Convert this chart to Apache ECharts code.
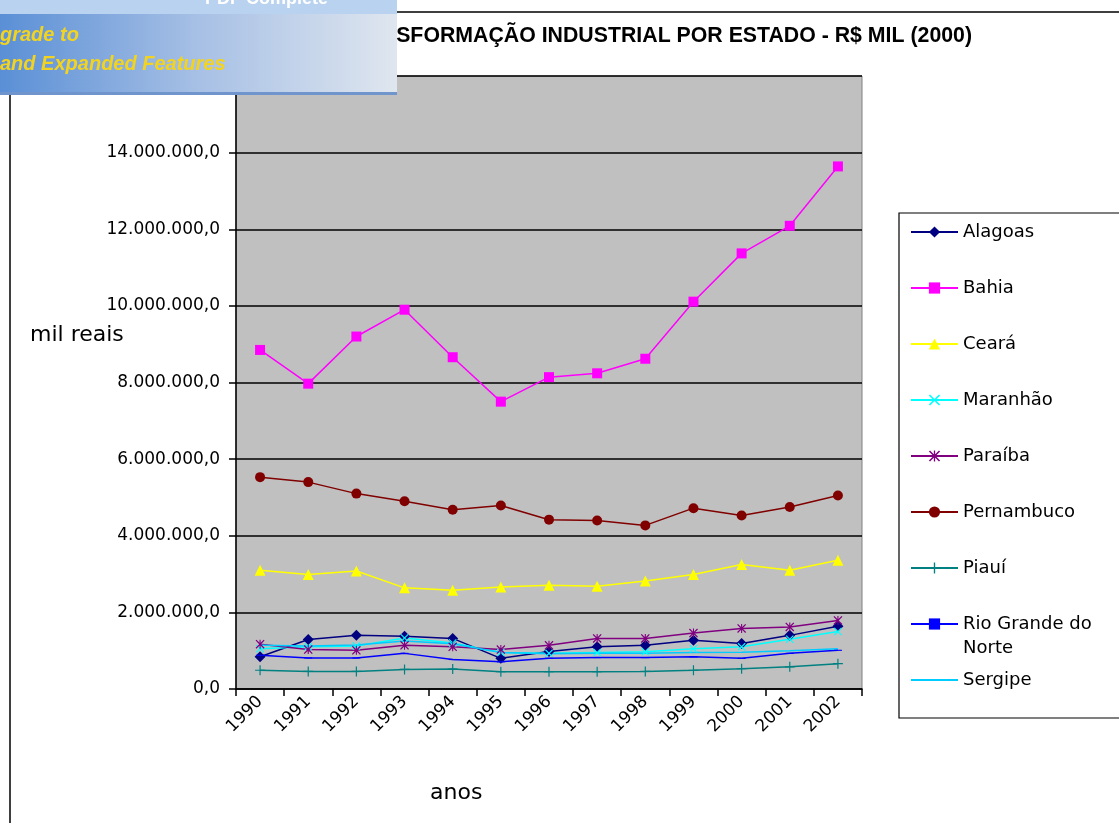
<!DOCTYPE html>
<html>
<head>
<meta charset="utf-8">
<script src="https://cdn.jsdelivr.net/npm/echarts@6/dist/echarts.min.js"></script>
<style>
  html, body { margin: 0; padding: 0; background: #fff; }
  #chart { width: 1119px; height: 823px; }
</style>
</head>
<body>
<div id="chart"></div>
<script>
// anos
const years = ['1990', '1991', '1992', '1993', '1994', '1995', '1996', '1997', '1998', '1999', '2000', '2001', '2002'];
// valor da transformação industrial, R$ mil
const alagoas    = [840000, 1290000, 1400000, 1380000, 1320000, 800000, 980000, 1100000, 1140000, 1270000, 1190000, 1400000, 1640000];
const bahia      = [8850000, 7970000, 9200000, 9900000, 8660000, 7500000, 8140000, 8240000, 8620000, 10110000, 11370000, 12090000, 13640000];
const ceara      = [3100000, 2990000, 3080000, 2640000, 2580000, 2660000, 2710000, 2680000, 2820000, 2990000, 3250000, 3100000, 3360000];
const maranhao   = [1050000, 1100000, 1120000, 1330000, 1200000, 950000, 930000, 950000, 970000, 1050000, 1100000, 1300000, 1500000];
const paraiba    = [1170000, 1030000, 1010000, 1140000, 1100000, 1030000, 1140000, 1320000, 1320000, 1460000, 1580000, 1620000, 1790000];
const pernambuco = [5530000, 5400000, 5100000, 4900000, 4680000, 4790000, 4420000, 4400000, 4270000, 4720000, 4530000, 4750000, 5050000];
const piaui      = [490000, 460000, 460000, 510000, 520000, 450000, 450000, 450000, 460000, 490000, 530000, 580000, 660000];
const rioGrande  = [880000, 810000, 810000, 930000, 770000, 710000, 800000, 820000, 820000, 840000, 800000, 930000, 1010000];
const sergipe    = [1140000, 1120000, 1150000, 1250000, 1180000, 950000, 920000, 930000, 930000, 950000, 960000, 1000000, 1050000];
const yTicks = [0, 2000000, 4000000, 6000000, 8000000, 10000000, 12000000, 14000000, 16000000];

const FONT = "'DejaVu Sans', sans-serif";
const plusPath = 'path://M4.4,0H5.6V4.4H10V5.6H5.6V10H4.4V5.6H0V4.4H4.4Z';
const xPath = 'path://M0,1L1,0L5,4L9,0L10,1L6,5L10,9L9,10L5,6L1,10L0,9L4,5Z';
const starPath = 'path://M0,1L1,0L5,4L9,0L10,1L6,5L10,9L9,10L5,6L1,10L0,9L4,5ZM4.4,0H5.6V10H4.4Z';
const dashPath = 'path://M0,0H8V3H0Z';

function fmt(v) {
    return String(v).replace(/\B(?=(\d{3})+(?!\d))/g, '.') + ',0';
}

function line(name, data, color, symbol, size) {
    return {
        name: name,
        type: 'line',
        data: data,
        symbol: symbol,
        symbolSize: size,
        symbolKeepAspect: true,
        showSymbol: size > 0 || Array.isArray(size),
        lineStyle: { color: color, width: 1.5 },
        itemStyle: { color: color },
        emphasis: { disabled: true },
        animation: false
    };
}

const chart = echarts.init(document.getElementById('chart'));
chart.setOption({
    backgroundColor: '#fff',
    title: {
        text: 'VALOR DA TRANSFORMAÇÃO INDUSTRIAL POR ESTADO - R$ MIL (2000)',
        right: 142,
        top: 21,
        textStyle: { fontFamily: "'Liberation Sans', Arial, sans-serif", fontWeight: 'bold', fontSize: 21.3, color: '#000' }
    },
    legend: {
        orient: 'vertical',
        left: 910,
        top: 223,
        padding: 0,
        itemWidth: 47,
        itemHeight: 14,
        itemGap: 38,
        selectedMode: false,
        data: ['Alagoas', 'Bahia', 'Ceará', 'Maranhão', 'Paraíba', 'Pernambuco', 'Piauí', 'Rio Grande do Norte',
               { name: 'Sergipe', itemStyle: { opacity: 0 } }],
        formatter: function (name) {
            return name === 'Rio Grande do Norte' ? 'Rio Grande do' : name;
        },
        textStyle: { fontFamily: FONT, fontSize: 18, color: '#000' }
    },
    grid: {
        left: 236,
        top: 76,
        width: 626,
        height: 613,
        show: true,
        backgroundColor: '#C0C0C0',
        borderColor: '#808080',
        borderWidth: 1
    },
    xAxis: {
        type: 'category',
        data: years,
        boundaryGap: true,
        axisLine: { lineStyle: { color: '#000', width: 1.5 } },
        axisTick: { show: true, length: 7, lineStyle: { color: '#000', width: 1.5 } },
        axisLabel: { rotate: 45, margin: 10, fontFamily: FONT, fontSize: 17, color: '#000' },
        splitLine: { show: false }
    },
    yAxis: {
        type: 'value',
        min: yTicks[0],
        max: yTicks[yTicks.length - 1],
        interval: yTicks[1] - yTicks[0],
        axisLine: { show: true, lineStyle: { color: '#000', width: 1.5 } },
        axisTick: { show: true, length: 7, lineStyle: { color: '#000', width: 1.5 } },
        axisLabel: { margin: 16, formatter: fmt, fontFamily: FONT, fontSize: 17, color: '#000' },
        splitLine: { show: true, lineStyle: { color: '#000', width: 1.5 } }
    },
    series: [
        line('Alagoas', alagoas, '#000080', 'diamond', 11),
        line('Bahia', bahia, '#FF00FF', 'rect', 10),
        line('Ceará', ceara, '#FFFF00', 'triangle', 11),
        line('Maranhão', maranhao, '#00FFFF', xPath, 8),
        line('Paraíba', paraiba, '#800080', starPath, 9),
        line('Pernambuco', pernambuco, '#800000', 'circle', 10),
        line('Piauí', piaui, '#008080', plusPath, 10),
        line('Rio Grande do Norte', rioGrande, '#0000FF', dashPath, [8, 3]),
        line('Sergipe', sergipe, '#00CCFF', 'circle', 0)
    ],
    graphic: [
        // borda do gráfico
        { type: 'rect', z: 0, silent: true, shape: { x: 10, y: 12, width: 1200, height: 900 },
          style: { fill: 'none', stroke: '#000', lineWidth: 1.5 } },
        // caixa da legenda
        { type: 'rect', z: 1, silent: true, shape: { x: 899, y: 213, width: 300, height: 505 },
          style: { fill: '#fff', stroke: '#000', lineWidth: 1.2 } },
        { type: 'text', z: 10, silent: true, x: 963, y: 648,
          style: { text: 'Norte', fontFamily: FONT, fontSize: 18, fill: '#000', verticalAlign: 'middle' } },
        { type: 'text', z: 10, silent: true, x: 30, y: 335,
          style: { text: 'mil reais', fontFamily: FONT, fontSize: 22, fill: '#000', verticalAlign: 'middle' } },
        { type: 'text', z: 10, silent: true, x: 430, y: 793,
          style: { text: 'anos', fontFamily: FONT, fontSize: 22, fill: '#000', verticalAlign: 'middle' } },
        // faixa do conversor de PDF sobre o canto
        { type: 'rect', z: 100, silent: true, shape: { x: 0, y: 0, width: 397, height: 95 },
          style: {
              fill: new echarts.graphic.LinearGradient(0, 0, 1, 0, [
                  { offset: 0, color: '#5a8fd6' },
                  { offset: 0.5, color: '#a7c0e5' },
                  { offset: 1, color: '#dfe6ef' }
              ])
          } },
        { type: 'rect', z: 101, silent: true, shape: { x: 0, y: 0, width: 397, height: 14 },
          style: { fill: '#b9d2ef' } },
        { type: 'rect', z: 101, silent: true, shape: { x: 0, y: 92, width: 397, height: 3 },
          style: { fill: '#6f95cc' } },
        { type: 'text', z: 102, silent: true, x: 205, y: -10,
          style: { text: 'PDF Complete', fontFamily: "'Liberation Sans', sans-serif", fontWeight: 'bold', fontSize: 18, fill: '#ffffff' } },
        { type: 'text', z: 102, silent: true, x: 0, y: 35,
          style: { text: 'grade to', fontFamily: "'Liberation Sans', sans-serif", fontStyle: 'italic', fontWeight: 'bold', fontSize: 20, fill: '#f2d31f', verticalAlign: 'middle' } },
        { type: 'text', z: 102, silent: true, x: 0, y: 64,
          style: { text: 'and Expanded Features', fontFamily: "'Liberation Sans', sans-serif", fontStyle: 'italic', fontWeight: 'bold', fontSize: 20, fill: '#f2d31f', verticalAlign: 'middle' } }
    ]
});
</script>
</body>
</html>
